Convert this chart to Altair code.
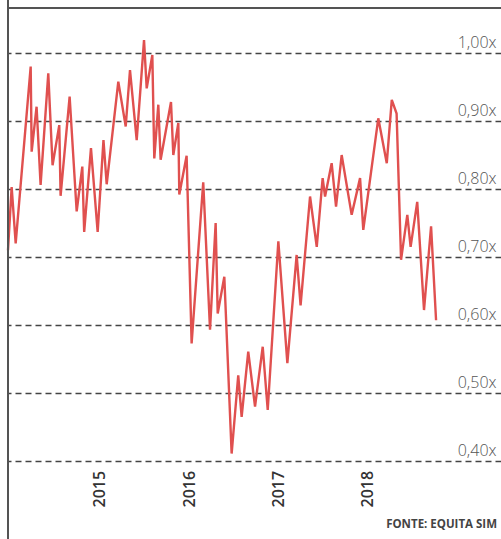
import altair as alt
import pandas as pd

# Time (fractional years) and price/book ratio
years = [2013.97, 2014.011, 2014.056, 2014.224, 2014.235, 2014.290, 2014.335, 2014.421,
         2014.469, 2014.544, 2014.559, 2014.660, 2014.739, 2014.802, 2014.823, 2014.899,
         2014.974, 2015.039, 2015.075, 2015.205, 2015.288, 2015.336, 2015.411, 2015.493,
         2015.523, 2015.586, 2015.608, 2015.653, 2015.679, 2015.795, 2015.821, 2015.877,
         2015.888, 2015.970, 2016.026, 2016.156, 2016.232, 2016.295, 2016.318, 2016.392,
         2016.474, 2016.548, 2016.586, 2016.660, 2016.736, 2016.822, 2016.878, 2016.997,
         2017.098, 2017.202, 2017.246, 2017.352, 2017.427, 2017.493, 2017.520, 2017.594,
         2017.643, 2017.706, 2017.818, 2017.912, 2017.948, 2018.116, 2018.211, 2018.267,
         2018.321, 2018.371, 2018.441, 2018.478, 2018.552, 2018.628, 2018.707, 2018.763]
ratio = [0.71, 0.803, 0.72, 0.98, 0.855, 0.921, 0.806, 0.97,
         0.835, 0.894, 0.79, 0.936, 0.767, 0.833, 0.737, 0.86,
         0.737, 0.872, 0.807, 0.958, 0.892, 0.975, 0.872, 1.019,
         0.948, 0.997, 0.845, 0.924, 0.843, 0.928, 0.85, 0.897,
         0.792, 0.849, 0.573, 0.81, 0.593, 0.75, 0.617, 0.671,
         0.411, 0.526, 0.465, 0.561, 0.48, 0.568, 0.475, 0.723,
         0.544, 0.703, 0.629, 0.789, 0.715, 0.816, 0.789, 0.838,
         0.774, 0.85, 0.762, 0.816, 0.74, 0.904, 0.838, 0.931,
         0.911, 0.696, 0.762, 0.715, 0.781, 0.622, 0.745, 0.607]

year_ticks = [2015, 2016, 2017, 2018]
ratio_ticks = [0.4, 0.5, 0.6, 0.7, 0.8, 0.9, 1.0]
source_text = "FONTE: EQUITA SIM"

df = pd.DataFrame({"t": years, "v": ratio})

W, H = 493, 531

x_scale = alt.Scale(domain=[2013.97, 2019.49], nice=False, zero=False)
y_scale = alt.Scale(domain=[0.2853, 1.0662], nice=False, zero=False)

line = alt.Chart(df).mark_line(color="#e0504f", strokeWidth=2.4, strokeJoin="miter").encode(
    x=alt.X("t:Q", scale=x_scale,
            axis=alt.Axis(values=year_ticks, format="d", title=None, grid=False, domain=False,
                          ticks=False, labelAngle=-90, labelAlign="left", labelBaseline="middle",
                          labelPadding=-32, labelFont="Open Sans", labelFontSize=16,
                          labelFontWeight=600, labelColor="#333333")),
    y=alt.Y("v:Q", scale=y_scale,
            axis=alt.Axis(orient="right", values=ratio_ticks, title=None, domain=False, ticks=False,
                          grid=True, gridColor="#444444", gridDash=[6, 4], gridWidth=1.3,
                          labelExpr="replace(format(datum.value, '.2f'), '.', ',') + 'x'",
                          labelAlign="right", labelPadding=-5, labelBaseline="alphabetic",
                          labelOffset=-6, labelFont="Open Sans", labelFontSize=16,
                          labelFontWeight=300, labelColor="#555555")),
)

left_rule = alt.Chart(df).mark_rule(color="#555555", strokeWidth=1.5).encode(
    x=alt.value(0), y=alt.value(-8), y2=alt.value(H)
)
top_rule = alt.Chart(df).mark_rule(color="#555555", strokeWidth=1.5).encode(
    y=alt.value(0), x=alt.value(0), x2=alt.value(W)
)
source = alt.Chart(pd.DataFrame({"s": [source_text]})).mark_text(
    align="right", baseline="middle", font="Open Sans", fontSize=11.5, fontWeight="bold",
    color="#444444"
).encode(text="s:N", x=alt.value(489), y=alt.value(517))

chart = alt.layer(line, left_rule, top_rule, source).properties(
    width=W, height=H,
    padding={"left": 8, "top": 8, "right": 0, "bottom": 0},
    autosize=alt.AutoSizeParams(type="none"),
).configure_view(stroke=None).configure(background="white")

chart.save("out.html", embed_options={"renderer": "svg", "actions": False})
